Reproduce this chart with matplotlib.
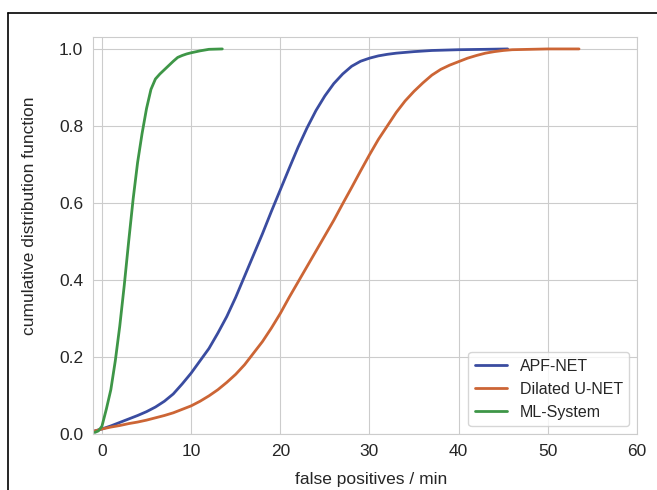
import matplotlib
matplotlib.use("Agg")
import matplotlib.pyplot as plt
from matplotlib.lines import Line2D
import seaborn as sns

sns.set_style("whitegrid")
plt.rcParams['font.family'] = ['Liberation Sans', 'DejaVu Sans']

labels = ["APF-NET", "Dilated U-NET", "ML-System"]
colors = ["#3A4CA0", "#CC6535", "#3E9647"]

apf_x = [-0.8, 0, 1, 2, 3, 4, 5, 6, 7, 8, 9, 10, 11, 12, 13, 14, 15, 16, 17, 18, 19, 20,
         21, 22, 23, 24, 25, 26, 27, 28, 29, 30, 31, 32, 33, 35, 37, 40, 43, 45.5]
apf_y = [0.008, 0.013, 0.021, 0.030, 0.039, 0.048, 0.058, 0.070, 0.085, 0.104, 0.130, 0.158,
         0.190, 0.222, 0.262, 0.305, 0.355, 0.410, 0.465, 0.520, 0.578, 0.634, 0.690, 0.745,
         0.795, 0.840, 0.878, 0.910, 0.935, 0.955, 0.968, 0.976, 0.982, 0.986, 0.989, 0.993,
         0.996, 0.998, 0.999, 1.0]

dil_x = [-0.8, 0, 1, 2, 3, 4, 5, 6, 7, 8, 9, 10, 11, 12, 13, 14, 15, 16, 17, 18, 19, 20,
         21, 22, 23, 24, 25, 26, 27, 28, 29, 30, 31, 32, 33, 34, 35, 36, 37, 38, 39, 40,
         41, 42, 43, 44, 45, 46, 48, 50, 53.5]
dil_y = [0.008, 0.013, 0.018, 0.022, 0.027, 0.031, 0.036, 0.042, 0.048, 0.055, 0.064, 0.073,
         0.085, 0.099, 0.115, 0.134, 0.155, 0.180, 0.210, 0.240, 0.275, 0.313, 0.355, 0.395,
         0.435, 0.475, 0.515, 0.555, 0.598, 0.640, 0.683, 0.725, 0.765, 0.800, 0.835, 0.865,
         0.890, 0.912, 0.932, 0.947, 0.958, 0.967, 0.976, 0.983, 0.989, 0.993, 0.996, 0.998,
         0.999, 1.0, 1.0]

ml_x = [-0.8, -0.4, 0, 0.5, 1, 1.5, 2, 2.5, 3, 3.5, 4, 4.5, 5, 5.5, 6, 6.5, 7, 7.5, 8,
        8.5, 9, 9.5, 10, 11, 12, 13.5]
ml_y = [0.004, 0.008, 0.020, 0.065, 0.115, 0.190, 0.280, 0.385, 0.500, 0.610, 0.705, 0.780,
        0.845, 0.895, 0.922, 0.935, 0.946, 0.957, 0.968, 0.978, 0.983, 0.987, 0.990, 0.995,
        0.999, 1.0]

fig = plt.figure(figsize=(6.57, 4.90), dpi=100)
ax = fig.add_axes([93/657, 1-434/490, (637-93)/657, (434-37)/490])

for xs, ys, lab, c in zip([apf_x, dil_x, ml_x], [apf_y, dil_y, ml_y], labels, colors):
    ax.plot(xs, ys, color=c, lw=2, label=lab, solid_joinstyle="round")

ax.set_xlim(-1, 60)
ax.set_ylim(0, 1.031)
ax.set_xticks([0, 10, 20, 30, 40, 50, 60])
ax.set_yticks([0.0, 0.2, 0.4, 0.6, 0.8, 1.0])
ax.set_yticklabels(["0.0", "0.2", "0.4", "0.6", "0.8", "1.0"])
ax.tick_params(labelsize=12.5, colors="#262626")
ax.set_xlabel("false positives / min", fontsize=12.5, color="#262626")
ax.set_ylabel("cumulative distribution function", fontsize=12.5, color="#262626")
ax.xaxis.set_label_coords(0.512, -0.096)
ax.yaxis.set_label_coords(-0.103, 0.549)
ax.legend(loc="lower right", fontsize=11.5, frameon=True)

fig.add_artist(Line2D([8/657, 1.0], [1-12.6/490, 1-12.6/490], transform=fig.transFigure, color="black", lw=1.2))
fig.add_artist(Line2D([8/657, 8/657], [0, 1-12.6/490], transform=fig.transFigure, color="black", lw=1.2))

fig.savefig("out.png", dpi=100)
